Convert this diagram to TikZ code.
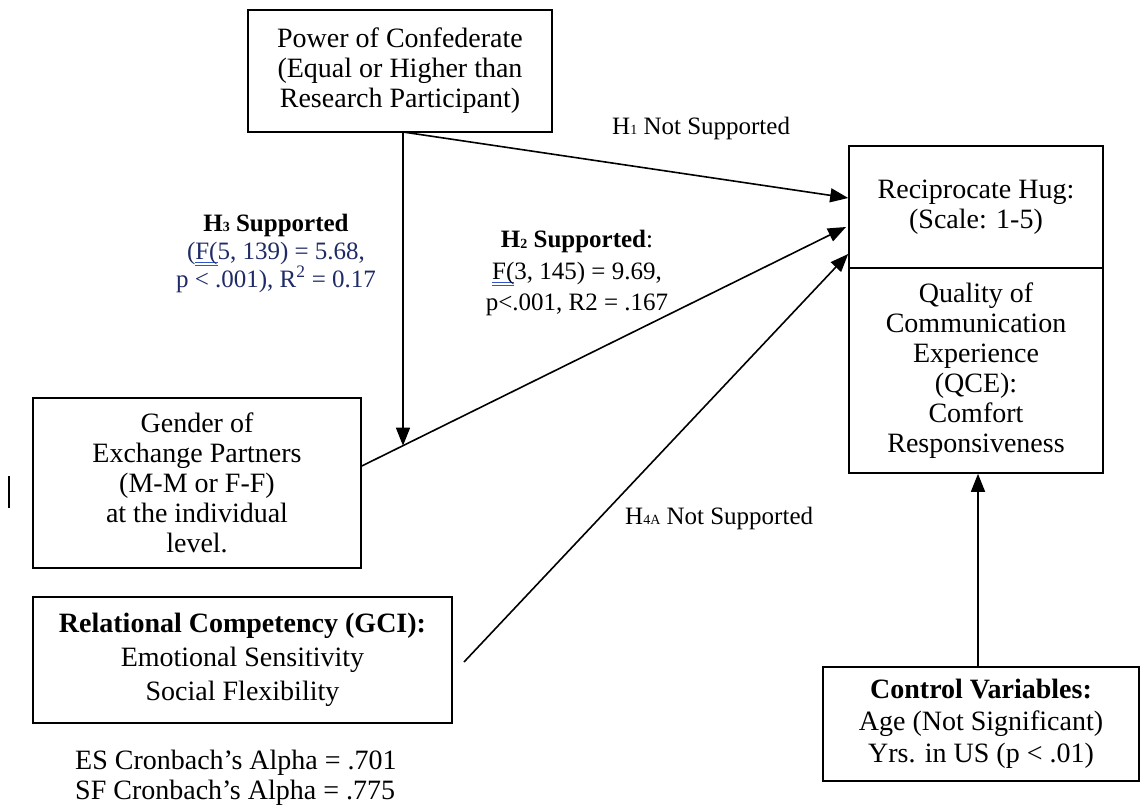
\documentclass[tikz,border=0pt]{standalone}
\usepackage{fontspec}
\setmainfont{Liberation Serif}
\usetikzlibrary{arrows.meta,calc}
\definecolor{navy}{HTML}{1F2A66}
\definecolor{ulblue}{HTML}{3355CC}
\newsavebox\dulbox
\newcommand{\dul}[1]{\sbox\dulbox{#1}\rlap{\textcolor{ulblue}{\rule[-3.5pt]{\wd\dulbox}{0.9pt}}}\rlap{\textcolor{ulblue}{\rule[-6.5pt]{\wd\dulbox}{0.9pt}}}\usebox\dulbox}
\newcommand{\hs}[1]{\raisebox{-0.5pt}{\fontsize{14}{14}\selectfont #1}}
\begin{document}
\begin{tikzpicture}[x=1pt,y=-1pt,
  box/.style={draw,line width=1.6pt,align=center,inner sep=0pt,font=\fontsize{28}{30}\selectfont},
  lbl/.style={align=center,inner sep=0pt,font=\fontsize{25}{28}\selectfont},
  arr/.style={line width=1.6pt,-{Triangle[length=18pt,width=14pt]}},
  ln/.style={line width=1.6pt}]
\useasboundingbox (0,0) rectangle (1141,810);
% boxes
\node[box,minimum width=304pt,minimum height=122pt] (power) at (400,71)
  {Power of Confederate\\(Equal or Higher than\\Research Participant)};
\node[box,minimum width=254pt,minimum height=122pt] (hug) at (976,207)
  {Reciprocate Hug:\\(Scale: 1-5)};
\node[box,minimum width=254pt,minimum height=205pt] (qce) at (976,370.5)
  {Quality of\\Communication\\Experience\\(QCE):\\Comfort\\Responsiveness};
\node[box,minimum width=328pt,minimum height=170pt] (gender) at (197,483)
  {Gender of\\Exchange Partners\\(M-M or F-F)\\at the individual\\level.};
\node[box,minimum width=419pt,minimum height=126pt,font=\fontsize{28}{34}\selectfont] (rel) at (242.5,660)
  {\textbf{Relational Competency (GCI):}\\Emotional Sensitivity\\Social Flexibility};
\node[box,minimum width=316pt,minimum height=114pt,font=\fontsize{28}{32}\selectfont] (ctrl) at (981,724)
  {\textbf{Control Variables:}\\Age (Not Significant)\\Yrs. in US (p < .01)};
\node[align=left,anchor=west,inner sep=0pt,font=\fontsize{28}{30}\selectfont] (alpha) at (75,778)
  {ES Cronbach’s Alpha = .701\\SF Cronbach’s Alpha = .775};
% labels
\node[lbl,anchor=west] (h1) at (612,128) {H\hs{1} Not Supported};
\node[lbl,anchor=west] (h4) at (625,518) {H\hs{4A} Not Supported};
\node[lbl] (h3) at (276,253)
  {\textbf{H\hs{3} Supported}\\
   \textcolor{navy}{(\dul{F(}5, 139) = 5.68,}\\
   \textcolor{navy}{p < .001), R\textsuperscript{2} = 0.17}};
\node[lbl,font=\fontsize{25}{31.5}\selectfont] (h2) at (577,273)
  {\textbf{H\hs{2} Supported}:\\\dul{F(}3, 145) = 9.69,\\p<.001, R2 = .167};
% connectors
\coordinate (top) at (403,132);
\coordinate (g1) at (gender.east |- 0,466);
\coordinate (h2end) at (846,227);
\coordinate (r1) at (464,662);
\coordinate (mid) at (intersection of g1--h2end and 403,100--403,600);
\draw[arr] (top) -- (hug.west |- 0,198);
\draw[arr] (top) -- (mid);
\draw[arr] (g1) -- (h2end);
\draw[arr] (r1) -- (hug.west |- 0,254);
\draw[arr] (ctrl.north -| 978,0) -- (qce.south -| 978,0);
% stray mark
\draw[line width=1.6pt] (9,476) -- (9,508);
\end{tikzpicture}
\end{document}
